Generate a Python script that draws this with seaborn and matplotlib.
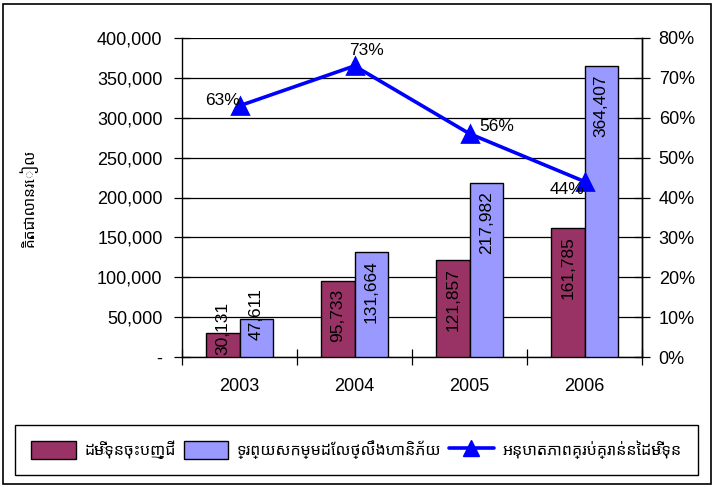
import matplotlib
matplotlib.use("Agg")
import matplotlib.pyplot as plt
import matplotlib.patches as mpatches
from matplotlib.lines import Line2D
from matplotlib.ticker import FuncFormatter, FixedLocator
from matplotlib.font_manager import FontProperties
import seaborn as sns
import pandas as pd

years = ["2003", "2004", "2005", "2006"]
registered_capital = [30131, 95733, 121857, 161785]
risk_weighted_assets = [47611, 131664, 217982, 364407]
capital_ratio = [63, 73, 56, 44]

series_names = ["ដើមទុនចុះបញ្ជី", "ទ្រព្យសកម្មដែលថ្លឹងហានិភ័យ"]
ratio_name = "អនុបាតភាពគ្រប់គ្រាន់នៃដើមទុន"
y_label = "គិតជាលានរៀល"

bar_colors = ["#993366", "#9999FF"]
line_color = "#0000FF"

sns.set_theme(style="white")
plt.rcParams["font.family"] = ["Liberation Sans", "Noto Sans Khmer", "DejaVu Sans"]
plt.rcParams["text.color"] = "black"
plt.rcParams["axes.labelcolor"] = "black"
plt.rcParams["xtick.color"] = "black"
plt.rcParams["ytick.color"] = "black"

khmer_family = ["Noto Sans Khmer", "Liberation Sans", "DejaVu Sans"]

bars = pd.DataFrame({
    "year": years * 2,
    "value": registered_capital + risk_weighted_assets,
    "series": [series_names[0]] * 4 + [series_names[1]] * 4,
})
ratio = pd.DataFrame({"year": years, "ratio": capital_ratio})

fig = plt.figure(figsize=(7.13, 4.87), dpi=100)
fig.patch.set_facecolor("white")
ax = fig.add_axes([182 / 713, 1 - 357 / 487, 460 / 713, 319 / 487])

sns.barplot(data=bars, x="year", y="value", hue="series", order=years,
            hue_order=series_names, palette=bar_colors, width=0.58, gap=0,
            edgecolor="black", linewidth=1.0, saturation=1, ax=ax,
            legend=False, zorder=3)

ax.set_ylim(0, 400000)
ax.set_xlim(-0.5, 3.5)
ax.yaxis.set_major_locator(FixedLocator(range(0, 400001, 50000)))
ax.yaxis.set_major_formatter(FuncFormatter(lambda v, p: "-" if v == 0 else f"{int(v):,}"))
ax.grid(axis="y", color="black", linewidth=0.9, zorder=0)
ax.set_axisbelow(True)
ax.spines["top"].set_visible(False)
for s in ["left", "bottom", "right"]:
    ax.spines[s].set_color("black")
    ax.spines[s].set_linewidth(1.0)
ax.set_xlabel("")
ax.set_ylabel(y_label, fontsize=11, family=khmer_family)
ax.yaxis.set_label_coords(-0.315, 0.5)
ax.tick_params(axis="y", which="major", direction="inout", length=12, width=0.9,
               labelsize=13, pad=8, colors="black", left=True)
ax.set_xticks(range(4))
ax.set_xticks([-0.5, 0.5, 1.5, 2.5, 3.5], minor=True)
ax.tick_params(axis="x", which="major", length=0, labelsize=13, pad=15)
ax.tick_params(axis="x", which="minor", direction="inout", length=12, width=0.9,
               bottom=True, colors="black")

# value labels rotated inside the bar ends
for container in ax.containers:
    for rect in container:
        h = rect.get_height()
        xc = rect.get_x() + rect.get_width() / 2
        txt = f"{int(round(h)):,}"
        if h < 60000:
            ax.text(xc, h + 6000, txt, rotation=90, ha="center", va="center",
                    fontsize=12.5, zorder=5)
        else:
            ax.annotate(txt, (xc, h), xytext=(0, -6), textcoords="offset points",
                        rotation=90, ha="center", va="top", fontsize=12.5, zorder=5)

# capital adequacy ratio on the secondary axis
ax2 = ax.twinx()
sns.pointplot(data=ratio, x="year", y="ratio", order=years, color=line_color,
              markers="^", markersize=11, linewidth=2.6, ax=ax2, zorder=6)
ax2.set_xlim(-0.5, 3.5)
ax2.set_ylim(0, 80)
ax2.yaxis.set_major_locator(FixedLocator(range(0, 81, 10)))
ax2.yaxis.set_major_formatter(FuncFormatter(lambda v, p: f"{int(v)}%"))
ax2.tick_params(axis="y", direction="inout", length=12, width=0.9, labelsize=13,
                pad=6, colors="black", right=True)
ax2.set_ylabel("")
ax2.set_xlabel("")
for s in ["top", "left", "bottom"]:
    ax2.spines[s].set_visible(False)
ax2.spines["right"].set_color("black")
ax2.spines["right"].set_linewidth(1.0)

offsets = [(0, 4, "right"), (9, 11, "center"), (7, 5, "left"), (0, -6, "right")]
for i, (v, (dx, dy, ha)) in enumerate(zip(capital_ratio, offsets)):
    ax2.annotate(f"{v}%", (i, v), xytext=(dx, dy), textcoords="offset points",
                 ha=ha, va="center", fontsize=12.5, zorder=7)

# legend along the bottom
handles = [
    mpatches.Patch(facecolor=bar_colors[0], edgecolor="black", linewidth=1.0),
    mpatches.Patch(facecolor=bar_colors[1], edgecolor="black", linewidth=1.0),
    Line2D([0], [0], color=line_color, linewidth=2.6, marker="^", markersize=11),
]
leg = fig.legend(handles, series_names + [ratio_name], loc="center",
                 bbox_to_anchor=(356.5 / 713, 1 - 450 / 487), ncol=3,
                 prop=FontProperties(family=khmer_family, size=11.5),
                 frameon=True, fancybox=False, edgecolor="black", framealpha=1,
                 handlelength=2.8, handleheight=1.3, columnspacing=0.45,
                 borderpad=1.0, handletextpad=0.55)
leg.get_frame().set_linewidth(1.0)

# outer border of the chart area
fig.patches.append(mpatches.Rectangle((2.5 / 713, 3.5 / 487), 708 / 713, 480 / 487,
                                      transform=fig.transFigure, fill=False,
                                      edgecolor="black", linewidth=1.2))

fig.savefig("out.png", dpi=100, facecolor="white")
